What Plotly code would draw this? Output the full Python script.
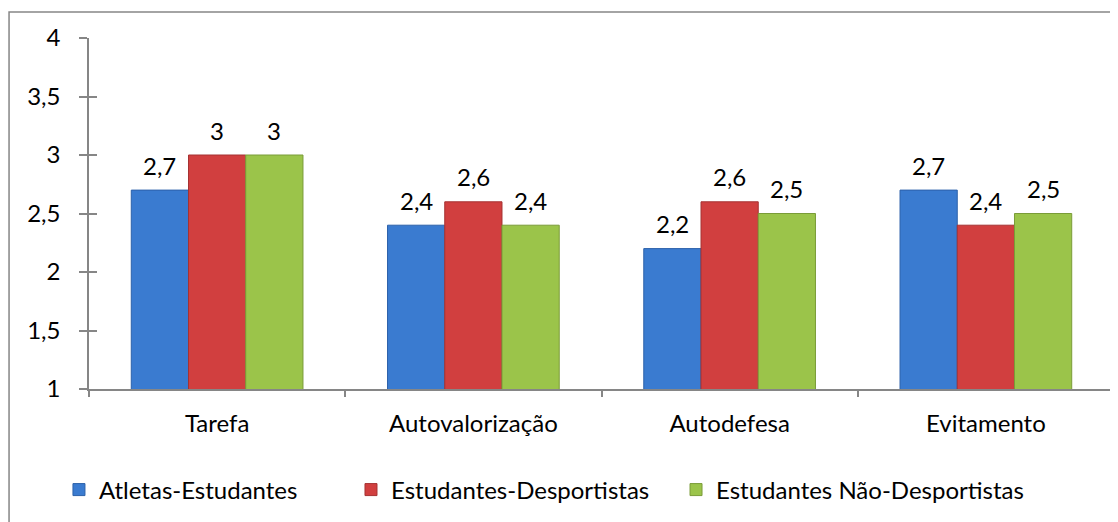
import plotly.graph_objects as go

categories = ["Tarefa", "Autovalorização", "Autodefesa", "Evitamento"]
series_names = ["Atletas-Estudantes", "Estudantes-Desportistas", "Estudantes Não-Desportistas"]
atletas_estudantes = [2.7, 2.4, 2.2, 2.7]
estudantes_desportistas = [3.0, 2.6, 2.6, 2.4]
estudantes_nao_desportistas = [3.0, 2.4, 2.5, 2.5]
y_ticks = [1, 1.5, 2, 2.5, 3, 3.5, 4]

fills = ["#3A7BD0", "#D13F3F", "#9BC44A"]
edges = ["#2C61AA", "#A53232", "#7A9C38"]

W, H = 1110, 514
L, R, T, B = 81, 4, 30, 133
BARGAP = 0.33
FS = 24
font_family = "Lato, 'Open Sans', sans-serif"

def label(v):
    return f"{v:g}".replace(".", ",")

all_series = [atletas_estudantes, estudantes_desportistas, estudantes_nao_desportistas]
legend_ids = ["legend", "legend2", "legend3"]

fig = go.Figure()
for name, vals, fc, ec, lg in zip(series_names, all_series, fills, edges, legend_ids):
    fig.add_trace(go.Bar(
        x=categories, y=vals, name=name, legend=lg,
        marker=dict(color=fc, line=dict(color=ec, width=1)),
    ))

# overlay axis to draw inward half of the cross ticks on the value axis
fig.add_trace(go.Scatter(x=categories, y=[None]*len(categories), yaxis="y2",
                         showlegend=False, hoverinfo="skip"))

# value labels above bars
cat_px = (W - L - R) / len(categories)
bar_px = cat_px * (1 - BARGAP) / len(all_series)
for j, vals in enumerate(all_series):
    for cat, v in zip(categories, vals):
        fig.add_annotation(x=cat, y=v, xref="x", yref="y", text=label(v),
                           showarrow=False, xshift=(j - 1) * bar_px, yshift=25,
                           font=dict(size=FS, color="black", family=font_family))

leg_common = dict(orientation="h", y=-0.2877, yanchor="middle", xanchor="left",
                  font=dict(size=FS), bgcolor="rgba(0,0,0,0)")
fig.update_layout(
    width=W, height=H,
    margin=dict(l=L, r=R, t=T, b=B),
    paper_bgcolor="white", plot_bgcolor="white",
    separators=",.",
    font=dict(family=font_family, size=FS, color="black"),
    barmode="group", bargap=BARGAP, bargroupgap=0,
    showlegend=True,
    legend=dict(x=-0.0293, **leg_common),
    legend2=dict(x=0.2556, **leg_common),
    legend3=dict(x=0.5727, **leg_common),
    xaxis=dict(type="category", showline=True, linecolor="#868686", linewidth=1.5,
               ticks="outside", tickson="boundaries", ticklen=6, tickcolor="#868686",
               tickwidth=1.5, showgrid=False, tickfont=dict(size=FS),
               ticklabelstandoff=12),
    yaxis=dict(range=[1, 4], tickvals=y_ticks, showline=True, linecolor="#868686",
               linewidth=1.5, ticks="outside", ticklen=8, tickcolor="#868686",
               tickwidth=1.5, showgrid=False, zeroline=False, tickfont=dict(size=FS),
               ticklabelstandoff=14),
    yaxis2=dict(range=[1, 4], tickvals=y_ticks, overlaying="y", side="left",
                ticks="inside", ticklen=8, tickcolor="#868686", tickwidth=1.5,
                showticklabels=False, showgrid=False, zeroline=False, showline=False),
)

# outer chart border
fig.add_shape(type="rect", xref="paper", yref="paper",
              x0=-0.078, x1=1.2, y0=-0.6, y1=1.074,
              line=dict(color="#868686", width=1.5), fillcolor="rgba(0,0,0,0)",
              layer="below")

fig.write_html("out.html")
